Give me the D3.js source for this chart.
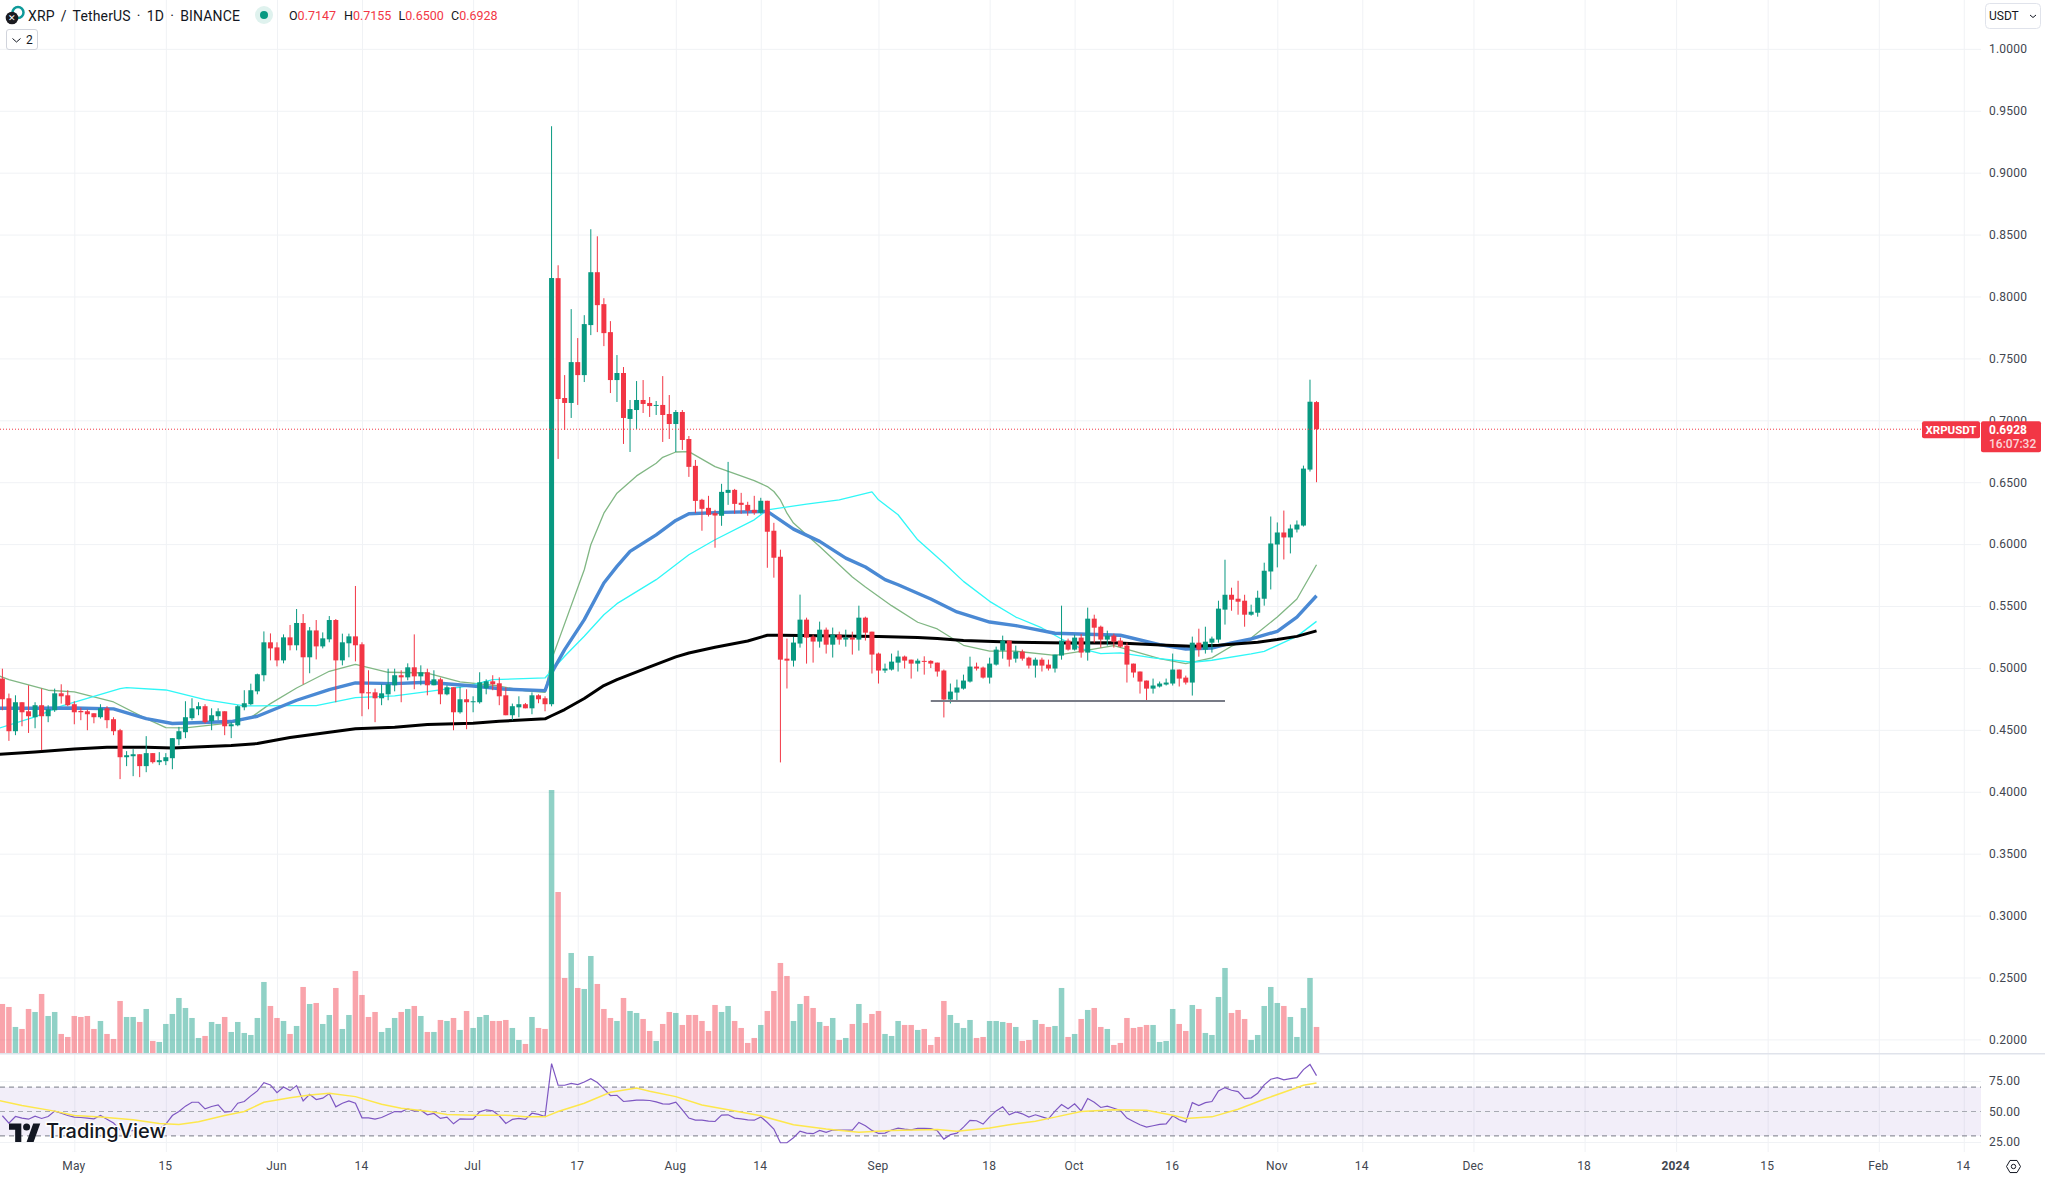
<!DOCTYPE html>
<html>
<head>
<meta charset="utf-8">
<title>XRPUSDT</title>
<script src="https://cdn.jsdelivr.net/npm/d3@7/dist/d3.min.js"></script>
<style>
    html, body { margin: 0; padding: 0; background: #fff; }
    svg { display: block; }
    text { font-family: Roboto, "Noto Sans", sans-serif; }
</style>
</head>
<body>
<div id="chart"></div>
<script>
// Daily candles, open / high / low / close, first one is 20 Apr 2023
var candlesApr = [
    [.4914,.4994,.4658,.4747],[.4755,.4793,.4411,.4489],[.4489,.4779,.4457,.4723],[.4723,.4723,.4529,.4642],
    [.4650,.4860,.4475,.4610],[.4602,.4723,.4513,.4699],[.4699,.4833,.4336,.4610],[.4610,.4699,.4562,.4666],
    [.4658,.4833,.4645,.4795],[.4795,.4868,.4712,.4771],[.4779,.4820,.4691,.4699]
];
var candlesMay = [
    [.4707,.4731,.4545,.4642],[.4653,.4680,.4578,.4642],[.4650,.4664,.4497,.4626],[.4634,.4634,.4553,.4602],
    [.4602,.4707,.4591,.4674],[.4674,.4691,.4513,.4578],[.4586,.4602,.4457,.4489],[.4497,.4508,.4102,.4279],
    [.4279,.4328,.4207,.4295],[.4287,.4344,.4126,.4303],[.4303,.4303,.4118,.4207],[.4207,.4449,.4158,.4312],
    [.4312,.4312,.4228,.4239],[.4239,.4320,.4215,.4255],[.4247,.4312,.4215,.4279],[.4271,.4433,.4182,.4433],
    [.4424,.4524,.4376,.4489],[.4481,.4731,.4433,.4602],[.4594,.4755,.4578,.4674],[.4666,.4723,.4618,.4691],
    [.4691,.4707,.4551,.4562],[.4570,.4674,.4497,.4618],[.4610,.4674,.4578,.4650],[.4650,.4650,.4457,.4529],
    [.4529,.4562,.4433,.4545],[.4537,.4699,.4529,.4691],[.4682,.4820,.4658,.4715],[.4707,.4873,.4699,.4820],
    [.4811,.4954,.4787,.4949],[.4941,.5295,.4892,.5207],[.5207,.5279,.5061,.5158]
];
var candlesJun = [
    [.5166,.5207,.5013,.5061],[.5061,.5271,.5037,.5247],[.5247,.5347,.5142,.5183],[.5183,.5476,.5142,.5363],
    [.5363,.5435,.4868,.5086],[.5086,.5330,.4957,.5303],[.5303,.5387,.5069,.5174],[.5174,.5287,.5158,.5239],
    [.5231,.5419,.5207,.5387],[.5387,.5395,.4723,.5061],[.5061,.5277,.5021,.5207],[.5199,.5277,.5086,.5255],
    [.5255,.5662,.5053,.5183],[.5191,.5207,.4610,.4795],[.4803,.4981,.4666,.4795],[.4803,.4833,.4562,.4755],
    [.4755,.4868,.4699,.4795],[.4787,.4994,.4739,.4868],[.4860,.4994,.4811,.4941],[.4941,.4981,.4723,.4924],
    [.4924,.5037,.4900,.5005],[.5005,.5271,.4828,.4932],[.4932,.5021,.4860,.4965],[.4965,.4994,.4779,.4860],
    [.4860,.4981,.4860,.4908],[.4908,.4922,.4707,.4787],[.4787,.4860,.4779,.4844],[.4844,.4844,.4497,.4642],
    [.4642,.4846,.4631,.4747],[.4747,.4828,.4505,.4723]
];
var candlesJul = [
    [.4726,.4771,.4642,.4731],[.4723,.4965,.4712,.4884],[.4836,.4908,.4787,.4892],[.4892,.4941,.4820,.4868],
    [.4876,.4924,.4699,.4771],[.4779,.4844,.4618,.4618],[.4618,.4712,.4578,.4691],[.4682,.4771,.4602,.4707],
    [.4707,.4717,.4674,.4674],[.4674,.4803,.4626,.4779],[.4779,.4787,.4715,.4747],[.4755,.4771,.4650,.4707],
    [.4707,.9375,.4690,.8149],[.8148,.8252,.6688,.7172],[.7180,.7365,.6922,.7140],[.7140,.7898,.7019,.7470],
    [.7470,.7664,.7124,.7365],[.7365,.7849,.7309,.7777],[.7769,.8543,.7688,.8196],[.8196,.8486,.7712,.7930],
    [.7938,.7986,.7599,.7704],[.7712,.7801,.7220,.7325],[.7325,.7527,.7148,.7382],[.7382,.7430,.6809,.7019],
    [.7011,.7164,.6744,.7091],[.7083,.7317,.6930,.7164],[.7164,.7325,.7059,.7132],[.7140,.7188,.7027,.7115],
    [.7118,.7156,.7043,.7124],[.7124,.7357,.6825,.7043],[.7051,.7204,.6849,.6970]
];
var candlesAug = [
    [.6970,.7083,.6744,.7067],[.7067,.7083,.6761,.6841],[.6849,.6873,.6543,.6624],[.6632,.6680,.6250,.6349],
    [.6358,.6366,.6108,.6285],[.6293,.6390,.6223,.6237],[.6250,.6277,.5971,.6231],[.6229,.6487,.6148,.6422],
    [.6414,.6664,.6317,.6438],[.6438,.6446,.6245,.6325],[.6334,.6414,.6245,.6317],[.6317,.6342,.6229,.6269],
    [.6277,.6390,.6237,.6253],[.6253,.6374,.6245,.6350],[.6350,.6350,.5809,.6100],[.6108,.6172,.5729,.5890],
    [.5898,.5955,.4237,.5067],[.5075,.5237,.4834,.5059],[.5059,.5250,.5011,.5205],[.5197,.5592,.5164,.5390],
    [.5390,.5406,.5035,.5245],[.5253,.5269,.5043,.5213],[.5213,.5374,.5164,.5309],[.5309,.5326,.5116,.5188],
    [.5188,.5326,.5084,.5269],[.5269,.5293,.5188,.5229],[.5229,.5309,.5172,.5245],[.5245,.5293,.5108,.5229],
    [.5229,.5503,.5140,.5406],[.5406,.5414,.5221,.5285],[.5293,.5293,.4955,.5108]
];
var candlesSep = [
    [.5116,.5124,.4874,.4979],[.4979,.5035,.4960,.4995],[.4987,.5116,.4979,.5051],[.5043,.5140,.4971,.5092],
    [.5092,.5100,.4995,.5059],[.5067,.5067,.4914,.5035],[.5035,.5075,.4971,.5059],[.5057,.5094,.4946,.5051],
    [.5057,.5062,.4999,.5035],[.5043,.5043,.4930,.4971],[.4979,.4987,.4600,.4745],[.4745,.4874,.4713,.4809],
    [.4801,.4906,.4731,.4842],[.4833,.4946,.4825,.4898],[.4890,.5091,.4882,.5011],[.5011,.5043,.4979,.4995],
    [.5003,.5011,.4914,.4922],[.4922,.5083,.4874,.5035],[.5027,.5172,.5019,.5148],[.5140,.5261,.5075,.5221],
    [.5221,.5221,.5011,.5067],[.5075,.5180,.5043,.5132],[.5132,.5148,.5059,.5075],[.5083,.5091,.4995,.5019],
    [.5019,.5083,.4922,.5067],[.5067,.5083,.4971,.5019],[.5027,.5067,.4979,.4995],[.4995,.5108,.4963,.5108],
    [.5100,.5503,.5067,.5221],[.5221,.5237,.5140,.5148]
];
var candlesOct = [
    [.5148,.5269,.5140,.5245],[.5245,.5274,.5083,.5124],[.5124,.5487,.5059,.5398],[.5398,.5430,.5204,.5325],
    [.5333,.5342,.5164,.5229],[.5229,.5301,.5180,.5261],[.5261,.5277,.5164,.5212],[.5221,.5245,.5164,.5172],
    [.5180,.5204,.4882,.5027],[.5035,.5035,.4922,.4963],[.4971,.4971,.4793,.4890],[.4898,.4898,.4737,.4833],
    [.4833,.4914,.4793,.4858],[.4850,.4890,.4842,.4874],[.4866,.4914,.4858,.4882],[.4874,.5116,.4858,.4987],
    [.4987,.4987,.4850,.4914],[.4922,.4938,.4866,.4882],[.4882,.5253,.4777,.5204],[.5204,.5317,.5091,.5148],
    [.5148,.5333,.5116,.5212],[.5204,.5253,.5124,.5237],[.5229,.5543,.5204,.5479],[.5471,.5874,.5350,.5591],
    [.5591,.5648,.5462,.5551],[.5559,.5704,.5430,.5535],[.5543,.5591,.5333,.5430],[.5430,.5511,.5422,.5454],
    [.5446,.5624,.5414,.5567],[.5559,.5850,.5503,.5785],[.5779,.6223,.5634,.6005]
];
var candlesNov = [
    [.5997,.6175,.5812,.6094],[.6094,.6271,.5876,.6054],[.6054,.6158,.5925,.6126],[.6118,.6191,.6094,.6158],
    [.6150,.6634,.6142,.6610],[.6602,.7328,.6586,.7150],[.7147,.7155,.6500,.6928]
];

// Volume per day, same days as the candles
var volumeApr = [148,139,79,73,133,124,178,112,124,58,49];
var volumeMay = [112,109,112,73,97,58,43,157,109,109,94,133,37,34,88,118,166,136,106,46,52,94,88,109,64,94,61,55,106,214,142];
var volumeJun = [106,97,58,82,199,148,151,88,115,196,73,115,247,175,109,124,64,76,106,124,133,142,112,64,64,100,97,106,70,127];
var volumeJul = [76,109,115,97,97,100,76,40,28,109,76,73,790,484,226,301,196,193,292,208,133,106,97,166,127,121,103,67,37,88,124];
var volumeAug = [121,85,115,115,97,67,145,124,142,97,76,31,46,85,127,187,271,232,97,148,172,136,94,82,106,40,46,88,148,91,118];
var volumeSep = [127,58,52,97,85,85,70,73,25,49,157,115,91,76,100,46,49,97,97,94,91,79,37,40,100,88,79,82,196,49];
var volumeOct = [58,103,130,136,79,73,25,31,106,76,79,85,85,34,37,133,88,67,145,133,61,55,169,256,121,130,103,40,55,142,199];
var volumeNov = [151,142,109,49,136,226,79];

// RSI per day, same days as the candles
var rsiApr = [46.5,40.5,45.9,44.6,43.7,46.2,44.3,45.9,50.3,48.6,46.7];
var rsiMay = [45.4,45.1,44.6,44,46.7,43.7,40.5,35,33.7,34.5,32.3,35.6,34.2,35.6,39.7,46.7,50,54.4,57.6,57.6,52.2,54.1,55.4,49.5,50,56.8,58.2,62.8,66.9,73.7,71.8];
var rsiJun = [65.5,70.1,67.1,71.2,58.7,64.1,59.8,60.9,64.7,53.8,56.8,58.7,56.8,44.8,44.8,43.7,45.1,47.6,50,49.7,52.2,50.3,51.1,47.3,48.4,44.3,45.4,39.9,44,43.7];
var rsiJul = [43.7,49.7,51.4,50.5,46.5,40.2,43.5,44.3,43.5,48.6,47.6,45.9,89.2,71.5,71.5,73.1,72,74.2,76.9,73.7,68.5,63.1,63.3,58.2,58.7,59.3,59.3,59,57.9,56.3,56];
var rsiAug = [57.6,51.4,44.6,42.9,42.9,42.1,41.8,47,47.3,44.6,44,43.2,42.9,45.6,41,35.6,24.4,24.4,28.5,33.9,32.3,31.8,34.5,32.9,34.8,34.8,34.8,34.8,41,38.3,34.5];
var rsiSep = [32,32.3,34.8,36.4,35.6,35,36.1,36.1,35.9,34.2,27.4,31,32.3,37.2,42.7,42.4,39.7,45.6,50.5,53.8,47.3,49.7,48.1,45.4,47.3,45.6,44,50.3,55.7,52.2];
var rsiOct = [56.3,50.5,60.6,57.6,53.3,54.4,52.7,50.8,44.6,41.8,39.1,37.2,38.3,39.4,39.9,46.5,43.2,41.3,57.3,54.9,57.3,58.2,66.9,69.6,67.4,66.3,60.6,61.2,65,71.8,76.4];
var rsiNov = [77.8,75.9,76.9,77.8,84.3,88.6,79.4];

// RSI moving average, read at its visible bends. Days count from 1 May 2023
var rsiMaDays = [-12,-8,-3,0,4,9,13,16,19,23,26,29,33,36,39,43,47,50,54,57,61,66,69,72,74,78,82,86,88,92,96,100,105,110,115,120,125,132,135,140,143,147,150,154,159,164,168,170,174,178,182,185,188,190];
var rsiMaValues = [59.5,54.9,50.3,46.7,45.4,43.2,40.2,39.4,41.6,46.7,50,57.6,61.2,63.6,65,62.2,56,52.7,50.3,47.6,47,47,45.6,45.6,50,56.8,65.8,69.3,66.6,62.2,55.4,51.4,46.5,39.1,35.6,32.9,34.5,35.3,33.9,36.4,39.1,42.1,45.4,50,51.4,51.1,47,44.3,45.6,51.9,60.1,65.8,71.5,73.4];

// Moving averages on the price pane, read at their visible bends
var maBlackDays = [-12,-6,0,5,11,15,24,28,33,43,49,54,61,65,72,73,75,78,81,83,88,92,94,98,103,106,108,123,129,132,136,144,152,159,167,171,175,181,184,187,190];
var maBlackValues = [.4301,.4322,.4346,.4360,.4360,.4354,.4373,.4389,.4438,.4508,.4521,.4543,.4553,.4570,.4589,.4614,.4664,.4753,.4858,.4906,.5008,.5089,.5121,.5167,.5218,.5264,.5264,.5253,.5245,.5237,.5221,.5207,.5202,.5204,.5183,.5175,.5183,.5207,.5229,.5255,.5299];
var maBlueDays = [-12,-6,0,6,11,15,24,28,34,39,43,49,54,61,66,72,73,75,78,81,83,85,89,92,94,99,106,110,114,118,121,124,126,131,135,140,144,150,155,160,166,170,174,177,180,184,187,190];
var maBlueValues = [.4674,.4674,.4677,.4669,.4591,.4551,.4567,.4610,.4739,.4825,.4879,.4873,.4884,.4854,.4828,.4817,.4960,.5148,.5390,.5686,.5820,.5941,.6075,.6191,.6245,.6256,.6264,.6121,.6022,.5887,.5815,.5713,.5672,.5557,.5452,.5371,.5342,.5280,.5272,.5264,.5188,.5153,.5161,.5202,.5234,.5296,.5411,.5583];
var maCyanDays = [-12,-6,-2,3,7,8,14,20,26,32,37,43,49,54,60,64,72,75,78,81,83,89,94,98,104,106,112,117,122,123,126,129,133,136,140,144,148,151,154,157,160,165,171,174,180,182,185,187,190];
var maCyanValues = [.4505,.4604,.4691,.4771,.4833,.4841,.4822,.4744,.4693,.4696,.4696,.4760,.4774,.4809,.4852,.4906,.4919,.5094,.5256,.5430,.5519,.5713,.5914,.6035,.6196,.6277,.6323,.6358,.6422,.6358,.6237,.6035,.5847,.5699,.5538,.5411,.5323,.5234,.5156,.5116,.5121,.5081,.5046,.5062,.5113,.5134,.5207,.5255,.5376];
var maGreenDays = [-12,-10,-4,0,6,11,14,17,24,27,30,34,39,43,48,54,59,65,69,72,73,78,79,81,83,86,89,90,92,94,98,104,106,107,108,109,110,114,119,121,125,129,132,136,140,144,150,153,159,162,166,170,174,177,180,184,187,190];
var maGreenValues = [.4946,.4906,.4820,.4806,.4725,.4591,.4518,.4516,.4556,.4599,.4712,.4838,.4973,.5029,.4965,.4959,.4887,.4854,.4814,.4803,.5067,.5793,.5995,.6250,.6411,.6551,.6653,.6701,.6744,.6747,.6626,.6513,.6465,.6425,.6357,.6250,.6170,.5981,.5734,.5653,.5503,.5369,.5315,.5183,.5135,.5135,.5102,.5126,.5180,.5135,.5075,.5035,.5081,.5175,.5242,.5411,.5557,.5833];

// Horizontal support line drawn on the chart
var supportDays = [131,176];
var supportPrice = .4733;

// Axes
var priceTicks = [.2,.25,.3,.35,.4,.45,.5,.55,.6,.65,.7,.75,.8,.85,.9,.95,1];
var rsiTicks = [25,50,75];
var rsiBands = [70,50,30];
var timeTickDates = ["2023-05-01","2023-05-15","2023-06-01","2023-06-14","2023-07-01","2023-07-17","2023-08-01","2023-08-14","2023-09-01","2023-09-18","2023-10-01","2023-10-16","2023-11-01","2023-11-14","2023-12-01","2023-12-18","2024-01-01","2024-01-15","2024-02-01","2024-02-14"];
var timeTickLabels = ["May","15","Jun","14","Jul","17","Aug","14","Sep","18","Oct","16","Nov","14","Dec","18","2024","15","Feb","14"];

var lastPrice = .6928;

var W = 2045, H = 1179;
var plotRight = 1981, paneBottom = 1053.3, rsiBottom = 1152;
var upColor = "#089981", downColor = "#F23645";
var gridColor = "#f0f2f5", textColor = "#42464f";

var parseDate = d3.utcParse("%Y-%m-%d");
var may1 = parseDate("2023-05-01");
var dayToDate = function(d) { return d3.utcDay.offset(may1, d); };

var candles = [].concat(candlesApr, candlesMay, candlesJun, candlesJul, candlesAug, candlesSep, candlesOct, candlesNov);
var volumes = [].concat(volumeApr, volumeMay, volumeJun, volumeJul, volumeAug, volumeSep, volumeOct, volumeNov);
var rsiValues = [].concat(rsiApr, rsiMay, rsiJun, rsiJul, rsiAug, rsiSep, rsiOct, rsiNov);
var firstDay = -11;

var data = candles.map(function(c, i) {
    return {
        date: dayToDate(firstDay + i),
        open: c[0], high: c[1], low: c[2], close: c[3],
        volume: volumes[i], rsi: rsiValues[i],
        color: c[3] >= c[0] ? upColor : downColor
    };
});

// Scales
var x = d3.scaleUtc().domain([may1, parseDate("2023-11-01")]).range([74.3, 1277.3]);
var y = d3.scaleLinear().domain([.7, .2]).range([420.3, 1039.4]);
var yVol = d3.scaleLinear().domain([0, 790]).range([paneBottom, 790]);
var yRsi = d3.scaleLinear().domain([50, 25]).range([1111.5, 1142]);

var svg = d3.select("#chart").append("svg").attr("width", W).attr("height", H);

svg.append("defs").append("clipPath").attr("id", "plot-clip")
    .append("rect").attr("width", plotRight).attr("height", H);

var axisText = function(sel) {
    sel.select(".domain").remove();
    sel.selectAll(".tick text").attr("fill", textColor).style("font-size", "12px").style("letter-spacing", "0.2px");
};

// Grids
svg.append("g").attr("class", "grid-x")
    .attr("transform", "translate(0," + rsiBottom + ")")
    .call(d3.axisBottom(x).tickValues(timeTickDates.map(parseDate)).tickSize(-rsiBottom).tickFormat(""))
    .call(function(g) {
        g.select(".domain").remove();
        g.selectAll("line").attr("stroke", gridColor);
    });

svg.append("g").attr("class", "grid-y")
    .attr("transform", "translate(" + plotRight + ",0)")
    .call(d3.axisRight(y).tickValues(priceTicks).tickSize(-plotRight).tickPadding(8).tickFormat(d3.format(".4f")))
    .call(axisText)
    .call(function(g) { g.selectAll("line").attr("stroke", gridColor); });

var plot = svg.append("g").attr("clip-path", "url(#plot-clip)");

// Volume
plot.append("g").selectAll("rect").data(data).enter().append("rect")
    .attr("x", function(d) { return x(d.date) - 2.75; })
    .attr("y", function(d) { return yVol(d.volume); })
    .attr("width", 5.5)
    .attr("height", function(d) { return yVol(0) - yVol(d.volume); })
    .attr("fill", function(d) { return d.color; })
    .attr("fill-opacity", 0.45);

// Moving averages
var maLine = function(days, values) {
    return d3.line()
        .x(function(d) { return x(dayToDate(d)); })
        .y(function(d, i) { return y(values[i]); })(days);
};
var maSeries = [
    {days: maGreenDays, values: maGreenValues, color: "#81B784", width: 1.3},
    {days: maCyanDays, values: maCyanValues, color: "#2ff7f7", width: 1.3},
    {days: maBlueDays, values: maBlueValues, color: "#4A89D4", width: 3.4},
    {days: maBlackDays, values: maBlackValues, color: "#000000", width: 3}
];
plot.append("g").selectAll("path").data(maSeries).enter().append("path")
    .attr("d", function(d) { return maLine(d.days, d.values); })
    .attr("fill", "none")
    .attr("stroke", function(d) { return d.color; })
    .attr("stroke-width", function(d) { return d.width; })
    .attr("stroke-linejoin", "round");

// Candles
var candleG = plot.append("g").selectAll("g").data(data).enter().append("g");
candleG.append("line")
    .attr("x1", function(d) { return x(d.date); })
    .attr("x2", function(d) { return x(d.date); })
    .attr("y1", function(d) { return y(d.high); })
    .attr("y2", function(d) { return y(d.low); })
    .attr("stroke", function(d) { return d.color; })
    .attr("stroke-width", 1);
candleG.append("rect")
    .attr("x", function(d) { return x(d.date) - 2.5; })
    .attr("y", function(d) { return y(Math.max(d.open, d.close)); })
    .attr("width", 5)
    .attr("height", function(d) { return Math.max(1, Math.abs(y(d.open) - y(d.close))); })
    .attr("fill", function(d) { return d.color; });

// Support line
plot.append("line")
    .attr("x1", x(dayToDate(supportDays[0])))
    .attr("x2", x(dayToDate(supportDays[1])))
    .attr("y1", y(supportPrice))
    .attr("y2", y(supportPrice))
    .attr("stroke", "#787B86")
    .attr("stroke-width", 2);

// Last price line
plot.append("line")
    .attr("x1", 0).attr("x2", 1922)
    .attr("y1", y(lastPrice)).attr("y2", y(lastPrice))
    .attr("stroke", downColor)
    .attr("stroke-width", 1)
    .attr("stroke-dasharray", "1 2");

// Pane separator
svg.append("line")
    .attr("x1", 0).attr("x2", W)
    .attr("y1", paneBottom + 0.5).attr("y2", paneBottom + 0.5)
    .attr("stroke", "#e0e3eb").attr("stroke-width", 1.5);

// RSI pane
svg.append("rect")
    .attr("x", 0).attr("width", plotRight)
    .attr("y", yRsi(rsiBands[0]))
    .attr("height", yRsi(rsiBands[2]) - yRsi(rsiBands[0]))
    .attr("fill", "#7E57C2").attr("fill-opacity", 0.1);

svg.append("g").attr("class", "axis-rsi")
    .attr("transform", "translate(" + plotRight + ",0)")
    .call(d3.axisRight(yRsi).tickValues(rsiTicks).tickSize(-plotRight).tickPadding(8).tickFormat(d3.format(".2f")))
    .call(axisText)
    .call(function(g) { g.selectAll("line").attr("stroke", gridColor); });

svg.append("g").selectAll("line").data(rsiBands).enter().append("line")
    .attr("x1", 0).attr("x2", plotRight)
    .attr("y1", function(d) { return yRsi(d); })
    .attr("y2", function(d) { return yRsi(d); })
    .attr("stroke", "#787B86")
    .attr("stroke-opacity", function(d) { return d === 50 ? 0.6 : 1; })
    .attr("stroke-dasharray", "5 4");

var rsiLine = d3.line()
    .x(function(d) { return x(d.date); })
    .y(function(d) { return yRsi(d.rsi); });
svg.append("path").datum(data)
    .attr("d", rsiLine)
    .attr("fill", "none")
    .attr("stroke", "#7E57C2")
    .attr("stroke-width", 1.2);

var rsiMaLine = d3.line()
    .x(function(d) { return x(dayToDate(d)); })
    .y(function(d, i) { return yRsi(rsiMaValues[i]); });
svg.append("path")
    .attr("d", rsiMaLine(rsiMaDays))
    .attr("fill", "none")
    .attr("stroke", "#FDE74C")
    .attr("stroke-width", 1.5);

// Time axis
svg.append("g").attr("class", "axis-time")
    .attr("transform", "translate(0," + rsiBottom + ")")
    .call(d3.axisBottom(x).tickValues(timeTickDates.map(parseDate)).tickSize(0).tickPadding(9)
        .tickFormat(function(d, i) { return timeTickLabels[i]; }))
    .call(axisText)
    .call(function(g) {
        g.selectAll(".tick text")
            .attr("dx", -1)
            .style("font-weight", function(d, i) { return timeTickLabels[i] === "2024" ? 700 : 400; });
    });

// Settings icon, bottom right corner
var gear = svg.append("g").attr("transform", "translate(2013.5,1166.5)")
    .attr("fill", "none").attr("stroke", "#131722").attr("stroke-width", 1);
gear.append("path").attr("d", d3.line()(d3.range(6).map(function(i) {
    var a = Math.PI / 3 * i + Math.PI / 6;
    return [7 * Math.sin(a + Math.PI / 3), 7 * Math.cos(a + Math.PI / 3)];
})) + "Z");
gear.append("circle").attr("r", 2.2);

// Header
svg.append("text").attr("x", 28).attr("y", 20.5)
    .attr("fill", "#131722").style("font-size", "14px").style("letter-spacing", "0.15px").style("word-spacing", "2.5px")
    .text("XRP / TetherUS · 1D · BINANCE");

var logo = svg.append("g");
logo.append("circle").attr("cx", 18).attr("cy", 12.5).attr("r", 5.5)
    .attr("fill", "none").attr("stroke", "#0e9a9a").attr("stroke-width", 2.5);
logo.append("circle").attr("cx", 12).attr("cy", 18).attr("r", 6.3).attr("fill", "#1b1b20");
logo.append("text").attr("x", 12).attr("y", 21.3).attr("text-anchor", "middle")
    .attr("fill", "#fff").style("font-size", "9px").text("✕");

svg.append("circle").attr("cx", 264).attr("cy", 15).attr("r", 9).attr("fill", "#dff2ee");
svg.append("circle").attr("cx", 264).attr("cy", 15).attr("r", 4).attr("fill", upColor);

var ohlcNames = ["O", "H", "L", "C"];
var ohlcValues = ["0.7147", "0.7155", "0.6500", "0.6928"];
var ohlcX = [289, 344, 398.6, 451];
var ohlc = svg.append("g").selectAll("text").data(ohlcNames).enter().append("text")
    .attr("x", function(d, i) { return ohlcX[i]; })
    .attr("y", 20)
    .style("font-size", "12.5px");
ohlc.append("tspan").attr("fill", "#131722").text(function(d) { return d; });
ohlc.append("tspan").attr("fill", downColor).text(function(d, i) { return ohlcValues[i]; });

// Collapsed indicators button
svg.append("rect").attr("x", 6.5).attr("y", 29.5).attr("width", 31).attr("height", 20).attr("rx", 2.5)
    .attr("fill", "#fff").attr("stroke", "#d1d4dc");
svg.append("path").attr("d", "M12.5 38.5l4 3.5 4-3.5").attr("fill", "none").attr("stroke", "#131722");
svg.append("text").attr("x", 26).attr("y", 44).attr("fill", "#131722").style("font-size", "12px").text("2");

// Currency button
svg.append("rect").attr("x", 1985.5).attr("y", 3.5).attr("width", 55).attr("height", 25).attr("rx", 4)
    .attr("fill", "#fff").attr("stroke", "#e0e3eb");
svg.append("text").attr("x", 1989).attr("y", 20).attr("fill", "#131722").style("font-size", "12px").text("USDT");
svg.append("path").attr("d", "M2030 15l3 2.5 3-2.5").attr("fill", "none").attr("stroke", "#131722");

// Last price tags
var lastY = y(lastPrice);
svg.append("rect").attr("x", 1922).attr("y", lastY - 8).attr("width", 58).attr("height", 17).attr("rx", 2).attr("fill", downColor);
svg.append("text").attr("x", 1951).attr("y", lastY + 4.5).attr("text-anchor", "middle")
    .attr("fill", "#fff").style("font-size", "11.5px").style("font-weight", 700).text("XRPUSDT");
svg.append("rect").attr("x", 1981).attr("y", lastY - 8).attr("width", 60).attr("height", 31).attr("rx", 2).attr("fill", downColor);
svg.append("text").attr("x", 1989).attr("y", lastY + 4.5)
    .attr("fill", "#fff").style("font-size", "12px").style("font-weight", 700).text("0.6928");
svg.append("text").attr("x", 1989).attr("y", lastY + 19)
    .attr("fill", "#fff").attr("fill-opacity", 0.8).style("font-size", "12px").style("font-weight", 500).text("16:07:32");

// TradingView mark
var tv = svg.append("g").attr("transform", "translate(9,1120) scale(0.88)").attr("fill", "#131722");
tv.append("path").attr("d", "M14 25H7V11H0V4h14zM28 25h-8l7.5-21h8z");
tv.append("circle").attr("cx", 20).attr("cy", 8).attr("r", 4);
svg.append("text").attr("x", 46).attr("y", 1138)
    .attr("fill", "#131722")
    .attr("stroke", "#fff").attr("stroke-width", 3).attr("paint-order", "stroke")
    .style("font-family", "Inter, Roboto, sans-serif")
    .style("font-size", "20px").style("font-weight", 500)
    .text("TradingView");
</script>
</body>
</html>
